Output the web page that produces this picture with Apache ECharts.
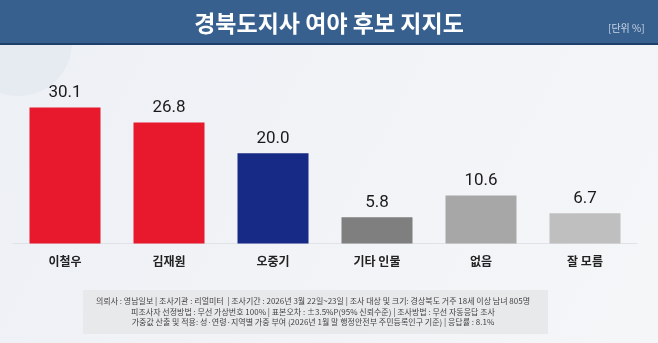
<!DOCTYPE html>
<html>
<head>
<meta charset="utf-8">
<script src="https://cdn.jsdelivr.net/npm/echarts@6/dist/echarts.min.js"></script>
<style>
  html, body { margin: 0; padding: 0; }
  #chart { width: 658px; height: 343px; }
</style>
</head>
<body>
<div id="chart"></div>
<script>
// 후보별 지지도 (%)
const categories = ['이철우', '김재원', '오중기', '기타 인물', '없음', '잘 모름'];
const support = [30.1, 26.8, 20.0, 5.8, 10.6, 6.7];
const barColors = ['#e8192c', '#e8192c', '#172a85', '#7f7f7f', '#a7a7a7', '#bfbfbf'];

const titleText = '경북도지사 여야 후보 지지도';
const unitText = '[단위 %]';
const noteLines = [
  '의뢰사 : 영남일보 | 조사기관 : 리얼미터  | 조사기간 : 2026년 3월 22일~23일 | 조사 대상 및 크기: 경상북도 거주 18세 이상 남녀 805명',
  '피조사자 선정방법 : 무선 가상번호 100% | 표본오차 : ±3.5%P(95% 신뢰수준) | 조사방법 : 무선 자동응답 조사',
  '가중값 산출 및 적용: 성·연령·지역별 가중 부여 (2026년 1월 말 행정안전부 주민등록인구 기준) | 응답률 : 8.1%'
];

const FONT = 'Roboto, "Noto Sans CJK KR", sans-serif';
const KFONT = '"Noto Sans CJK KR", sans-serif';

const chart = echarts.init(document.getElementById('chart'));
chart.setOption({
  animation: false,
  backgroundColor: {
    type: 'linear', x: 0, y: 0, x2: 1, y2: 1,
    colorStops: [{ offset: 0, color: '#edf0f5' }, { offset: 1, color: '#f5f6f8' }]
  },
  title: {
    text: titleText,
    left: 'center',
    top: 7,
    textStyle: { color: '#ffffff', fontSize: 23, fontWeight: 'bold', fontFamily: KFONT }
  },
  graphic: [
    { type: 'circle', shape: { cx: 18, cy: 42, r: 54 }, style: { fill: 'rgba(205,214,228,0.22)' }, z: -1 },
    { type: 'rect', shape: { x: 0, y: 0, width: 658, height: 43 }, style: { fill: '#37608f' }, z: 0 },
    { type: 'rect', shape: { x: 0, y: 43, width: 658, height: 2 }, style: { fill: '#1f3f6b' }, z: 0 },
    {
      type: 'text', left: 608, top: 23, z: 2,
      style: { text: unitText, fill: '#c9d5e5', fontSize: 10, fontFamily: KFONT }
    },
    { type: 'rect', shape: { x: 83, y: 290, width: 465, height: 44 }, style: { fill: '#e8e9eb' }, z: 0 },
    {
      type: 'text', z: 2,
      style: {
        x: 313, y: 296,
        text: noteLines.join('\n'),
        align: 'center', verticalAlign: 'top',
        fill: '#444444', fontSize: 8, lineHeight: 10.5, fontFamily: KFONT
      }
    }
  ],
  grid: { left: 13, right: 21, top: 62.8, height: 180.7, containLabel: false },
  xAxis: {
    type: 'category',
    data: categories,
    axisTick: { show: false },
    axisLine: { show: true, lineStyle: { color: '#dfe3e8', width: 1 } },
    axisLabel: { color: '#222222', fontSize: 12, fontWeight: 'bold', margin: 12, fontFamily: KFONT }
  },
  yAxis: {
    type: 'value', min: 0, max: 40,
    show: false,
    splitLine: { show: false }
  },
  series: [{
    type: 'bar',
    data: support.map((v, i) => ({ value: v, itemStyle: { color: barColors[i] } })),
    barWidth: 71,
    label: {
      show: true, position: 'top', distance: 6,
      formatter: p => p.value.toFixed(1),
      color: '#1a1a1a', fontSize: 17, fontFamily: FONT
    }
  }]
});
</script>
</body>
</html>
